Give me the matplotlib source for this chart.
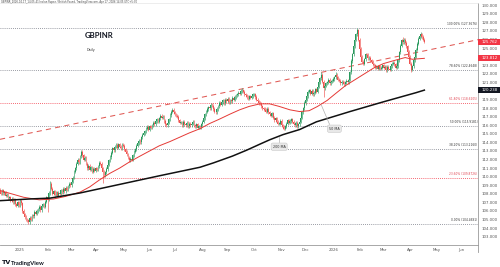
import numpy as np
import pandas as pd
import matplotlib
matplotlib.use("Agg")
import matplotlib.pyplot as plt
from matplotlib.patches import Rectangle
from matplotlib.transforms import blended_transform_factory

# daily closes, GBPINR, from 2024-12-09 (business days)
closes = [
    108.3, 108.0, 108.4, 108.1, 108.2, 107.8, 107.9, 107.5, 107.6, 107.2,
    107.4, 107.0, 107.3, 106.8, 106.6, 107.0, 106.7, 107.2, 106.9, 106.0,
    105.6, 105.3, 105.0, 104.9, 104.7, 105.2, 105.0, 105.5, 105.4, 105.9,
    105.7, 106.0, 106.2, 106.5, 106.1, 106.6, 106.8, 106.5, 107.1, 107.6,
    107.3, 108.1, 109.2, 108.6, 108.0, 108.3, 107.9, 108.2, 107.8, 108.1,
    108.0, 108.4, 108.2, 108.6, 108.3, 108.7, 108.5, 108.9, 109.2, 109.0,
    109.4, 109.9, 110.6, 111.0, 111.5, 112.0, 111.7, 112.4, 112.9, 112.5,
    112.0, 112.2, 111.5, 111.0, 111.3, 110.8, 111.1, 110.6, 110.9, 110.7,
    111.0, 110.8, 111.2, 111.6, 111.5, 111.0, 110.6, 110.2, 110.5, 110.9,
    111.4, 111.9, 112.3, 112.8, 113.3, 113.1, 113.5, 113.7, 113.4, 113.8,
    113.5, 113.3, 113.7, 113.6, 113.2, 112.9, 112.6, 112.2, 111.9, 112.1,
    112.0, 112.5, 112.9, 113.2, 113.6, 113.9, 114.2, 114.0, 114.6, 114.9,
    115.1, 115.3, 115.6, 115.8, 115.5, 115.9, 115.7, 116.0, 116.3, 116.1,
    116.5, 116.7, 116.4, 116.8, 117.1, 116.9, 117.0, 116.5, 116.1, 116.0,
    116.3, 116.7, 117.2, 117.6, 117.8, 117.5, 117.3, 117.1, 117.0, 116.6,
    116.3, 116.3, 116.0, 116.4, 116.1, 116.0, 116.3, 115.9, 116.2, 116.0,
    116.2, 116.4, 116.0, 115.9, 116.1, 115.7, 115.9, 115.8, 116.1, 116.4,
    116.8, 117.3, 117.6, 117.9, 118.1, 118.0, 118.4, 118.3, 117.9, 117.6,
    117.5, 117.9, 118.2, 118.6, 118.4, 118.7, 118.9, 118.6, 119.0, 118.8,
    119.1, 118.7, 118.9, 118.8, 119.2, 119.0, 119.3, 119.5, 119.6, 119.8,
    119.7, 120.0, 120.1, 119.9, 119.6, 119.5, 119.3, 119.1, 119.4, 119.2,
    119.4, 119.6, 119.6, 119.3, 119.0, 118.8, 118.6, 118.5, 118.2, 118.0,
    117.9, 117.8, 117.6, 117.9, 117.5, 117.3, 117.1, 117.4, 116.9, 116.6,
    116.8, 116.4, 116.2, 116.2, 116.5, 116.0, 115.8, 115.6, 115.9, 116.2,
    116.6, 116.3, 116.5, 116.7, 116.4, 116.2, 116.0, 116.3, 115.9, 116.1,
    116.4, 116.9, 117.5, 118.0, 118.6, 119.0, 119.4, 119.9, 120.1, 119.7,
    120.0, 119.6, 119.8, 120.2, 119.9, 120.5, 121.0, 121.5, 121.9, 121.1,
    120.3, 120.6, 120.9, 121.0, 121.3, 120.9, 121.1, 121.2, 121.4, 121.6,
    121.9, 121.6, 121.3, 121.2, 120.9, 121.1, 121.0, 120.8, 121.0, 121.2,
    121.0, 121.3, 122.2, 123.5, 124.3, 125.2, 126.0, 126.6, 127.1, 126.0,
    124.9, 124.0, 123.4, 123.2, 123.7, 124.3, 124.2, 123.8, 123.9, 123.6,
    123.4, 123.1, 123.0, 122.8, 122.9, 122.6, 122.9, 122.6, 122.7, 123.0,
    122.7, 122.8, 122.4, 122.8, 122.6, 122.5, 122.9, 123.2, 123.3, 123.1,
    122.7, 122.9, 123.6, 124.5, 125.3, 125.9, 125.7, 126.0, 125.6, 125.2,
    124.6, 124.0, 123.2, 122.5, 122.9, 123.6, 124.0, 124.8, 125.5, 126.1,
    126.4, 126.6, 126.3, 126.0, 125.76,
]
first_open = 108.5
# visible wick extremes
high_marks = {42: 109.45, 68: 113.1, 144: 118.0, 202: 120.3, 212: 119.8,
              268: 122.2, 280: 122.2, 298: 127.37, 336: 126.3, 351: 126.85}
low_marks = {24: 104.47, 40: 105.9, 86: 109.3, 167: 115.6, 237: 115.4,
             270: 119.3, 343: 122.2}

# moving averages (bar index, value)
ma50_idx = [0, 10, 20, 33, 45, 55, 67, 75, 83, 92, 100, 108, 117, 125, 133,
            142, 150, 158, 167, 175, 183, 192, 200, 208, 217, 225, 233, 242,
            250, 258, 265, 273, 280, 288, 296, 304, 312, 320, 330, 338, 344, 354]
ma50_val = [108.4, 108.0, 107.6, 107.3, 107.4, 107.7, 108.2, 108.8, 109.6,
            110.4, 111.0, 111.7, 112.4, 113.0, 113.6, 114.1, 114.6, 115.1,
            115.6, 116.2, 116.7, 117.3, 117.8, 118.2, 118.5, 118.5, 118.2,
            117.8, 117.6, 117.7, 118.2, 118.9, 119.7, 120.6, 121.3, 122.0,
            122.7, 123.2, 123.6, 123.9, 123.7, 123.81]
ma200_idx = [0, 25, 42, 67, 100, 133, 150, 167, 178, 194, 206, 217, 225, 236,
             250, 264, 292, 319, 347, 354]
ma200_val = [107.2, 107.4, 107.5, 108.1, 109.1, 110.1, 110.6, 111.1, 111.6,
             112.4, 113.1, 113.8, 114.3, 114.9, 115.5, 116.4, 117.6, 118.7,
             119.8, 120.1]

# trend line points (bar index, price)
trend_pts = [(0, 114.35), (354, 124.68)]

fib_names = ["100.00%", "78.60%", "61.80%", "50.00%", "38.20%", "23.60%", "0.00%"]
fib_price = [127.3676, 122.4648, 118.6205, 115.9181, 113.2160, 109.8726, 104.4691]
fib_red = [False, False, True, False, False, True, False]

last_close_label = "125.762"
ma50_label = "123.812"
ma200_label = "120.238"

GREEN = "#2a9a5e"
RED = "#ef5350"

dates = pd.bdate_range("2024-12-09", "2026-07-31")
n = len(closes)
x = np.arange(n)
c = np.array(closes)
o = np.r_[first_open, c[:-1]]
hi = np.maximum(o, c) + 0.18
lo = np.minimum(o, c) - 0.18
for k, v in high_marks.items():
    hi[k] = v
for k, v in low_marks.items():
    lo[k] = v
col = np.where(c >= o, GREEN, RED)

W, H = 500, 267
fig = plt.figure(figsize=(W / 100, H / 100), dpi=100)
ax = fig.add_axes([0, 1 - 245 / H, 478 / W, (245 - 3.3) / H])
ax.set_xlim(0.33, 398.7)
ax.set_ylim(102.03, 130.23)

# fib levels
for name, p, red in zip(fib_names, fib_price, fib_red):
    cc = "#f23645" if red else "#787b86"
    ax.axhline(p, color=cc, lw=0.6, ls=(0, (1, 1.5)), zorder=1)
    ax.text(398.3, p + 0.25, f"{name} ({p:.4f})", fontsize=2.1,
            color="#e0424f" if red else "#333333", ha="right", va="bottom")

ax.axline(trend_pts[0], trend_pts[1], color="#e05a55", lw=0.75,
          ls=(0, (5, 4)), zorder=2)

ax.vlines(x, lo, hi, colors=col, lw=0.45, zorder=3)
ax.bar(x, np.maximum(np.abs(c - o), 0.06), bottom=np.minimum(o, c),
       width=0.8, color=col, linewidth=0, zorder=3)

ax.plot(ma50_idx, ma50_val, color="#e53935", lw=0.7, zorder=4)
ax.plot(ma200_idx, ma200_val, color="#111111", lw=1.1, zorder=4)

# MA tags
ax.plot([268, 275], [118.4, 116.1], color="#b0b0b0", lw=0.5, zorder=5)
ax.text(279, 115.6, "50 MA", fontsize=2.4, ha="center", va="center", color="#333",
        bbox=dict(boxstyle="round,pad=0.5", fc="#e8e8e8", ec="#c8c8c8", lw=0.4), zorder=6)
ax.plot([233, 233], [114.6, 114.0], color="#b0b0b0", lw=0.5, zorder=5)
ax.text(233, 113.5, "200 MA", fontsize=2.4, ha="center", va="center", color="#333",
        bbox=dict(boxstyle="round,pad=0.5", fc="#e8e8e8", ec="#c8c8c8", lw=0.4), zorder=6)

ax.text(71, 126.2, "GBPINR", fontsize=5.6, fontweight="bold", color="#131722",
        family="Lato")
ax.text(72.5, 124.7, "Daily", fontsize=2.4, color="#333")

# axes cosmetics
ax.yaxis.tick_right()
ax.set_yticks(np.arange(103, 131, 1))
ax.set_yticklabels([f"{v:.3f}" for v in range(103, 131)])
ax.tick_params(axis="y", length=0, pad=2.5, labelsize=2.8, labelcolor="#555")

ticks, labels = [], []
for m in pd.date_range("2025-01-01", "2026-06-01", freq="MS"):
    i = dates.searchsorted(m)
    ticks.append(i)
    labels.append(str(m.year) if m.month == 1 else m.strftime("%b"))
ax.set_xticks(ticks)
ax.set_xticklabels(labels)
ax.tick_params(axis="x", length=0, pad=2.0, labelsize=2.8, labelcolor="#555")

ax.spines["left"].set_visible(False)
ax.spines["top"].set_color("#e6e6e6")
ax.spines["top"].set_linewidth(0.5)
ax.spines["bottom"].set_color("#9a9a9a")
ax.spines["bottom"].set_linewidth(0.6)
ax.spines["right"].set_color("#9a9a9a")
ax.spines["right"].set_linewidth(0.6)
fig.add_artist(plt.Line2D([478 / W, 478 / W], [1 - 252 / H, 1 - 245 / H],
                          color="#9a9a9a", lw=0.6))

# price tags on the right scale
tr = blended_transform_factory(ax.transAxes, ax.transData)
for val, txt, fc in [(125.76, last_close_label, "#f23645"),
                     (123.81, ma50_label, "#f23645"),
                     (120.1, ma200_label, "#131722")]:
    ax.add_patch(Rectangle((1.001, val - 0.36), 0.046, 0.72, transform=tr,
                           fc=fc, ec="none", clip_on=False, zorder=7))
    ax.text(1.024, val, txt, transform=tr, fontsize=2.8, color="white",
            ha="center", va="center", zorder=8, clip_on=False)

fig.text(0.002, 1 - 1.5 / H,
         "GBPINR_2026-04-17_14-05-41 Indian Rupee / British Pound, TradingView.com, Apr 17, 2026 14:05 UTC+5:30",
         fontsize=1.8, color="#444", va="center")
fig.text(0.004, 1 - 263 / H, "TV", fontsize=4.6, fontweight="heavy", color="#131722", va="center")
fig.text(0.022, 1 - 263 / H, "TradingView", fontsize=4.3, fontweight="bold", color="#131722",
         va="center", family="Lato")

fig.savefig("out.png", dpi=100)
